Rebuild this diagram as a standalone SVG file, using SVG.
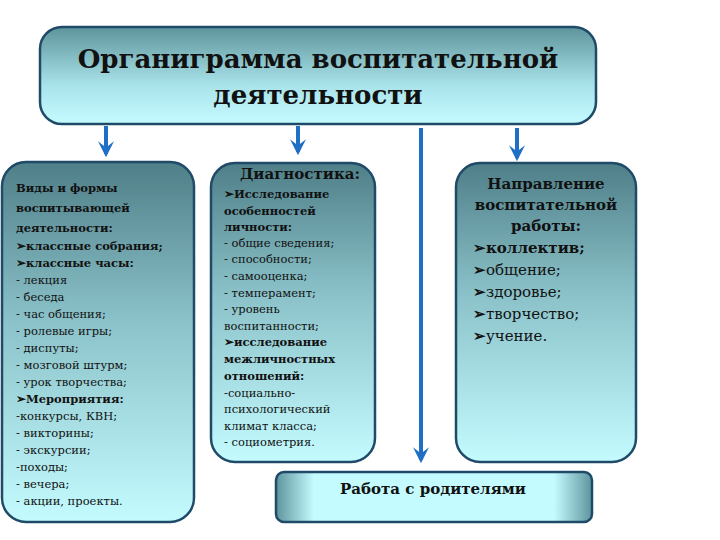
<svg xmlns="http://www.w3.org/2000/svg" width="720" height="540" viewBox="0 0 720 540">
<defs>
<linearGradient id="g" x1="0" y1="0" x2="0" y2="1">
<stop offset="0" stop-color="#4f7f88"/><stop offset="0.45" stop-color="#8cc3ca"/><stop offset="1" stop-color="#c4fbff"/>
</linearGradient>
<linearGradient id="gt" x1="0" y1="0" x2="0" y2="1">
<stop offset="0" stop-color="#5e949c"/><stop offset="0.6" stop-color="#a9e3ea"/><stop offset="1" stop-color="#c4fbff"/>
</linearGradient>
<linearGradient id="gb" x1="0" y1="0" x2="1" y2="0">
<stop offset="0" stop-color="#5e949c"/><stop offset="0.12" stop-color="#c4fbff"/><stop offset="0.88" stop-color="#c4fbff"/><stop offset="1" stop-color="#5e949c"/>
</linearGradient>
<marker id="ar" viewBox="0 0 10 10" refX="8" refY="5" markerWidth="4" markerHeight="4" orient="auto" markerUnits="strokeWidth">
<path d="M0,0 L10,5 L0,10 L4,5 Z" fill="#1f6fc4"/>
</marker>
</defs>
<style>
.box{stroke:#1f4a68;stroke-width:2.5}
.c{stroke:#1f6fc4;stroke-width:4;fill:none}
text{font-family:"DejaVu Serif",serif;fill:#111}
.b{font-weight:bold}
.s{font-size:11.5px}
</style>
<rect width="720" height="540" fill="#fff"/>
<g id="connectors">
<line class="c" x1="106" y1="126" x2="106" y2="154" marker-end="url(#ar)"/>
<line class="c" x1="298" y1="126" x2="298" y2="152" marker-end="url(#ar)"/>
<line class="c" x1="421" y1="128" x2="421" y2="460" marker-end="url(#ar)"/>
<line class="c" x1="517" y1="128" x2="517" y2="158" marker-end="url(#ar)"/>
</g>
<g id="title">
<rect class="box" x="40" y="27" width="556" height="97" rx="22" fill="url(#gt)"/>
<text class="b" x="318" y="68" font-size="26" text-anchor="middle">Органиграмма воспитательной</text>
<text class="b" x="318" y="104" font-size="26" text-anchor="middle">деятельности</text>
</g>
<g id="left">
<rect class="box" x="2" y="162" width="192" height="360" rx="24" fill="url(#g)"/>
<g class="s">
<text class="b" x="16" y="192">Виды и формы</text>
<text class="b" x="16" y="212">воспитывающей</text>
<text class="b" x="16" y="232">деятельности:</text>
<text class="b" x="16" y="250">➢классные собрания;</text>
<text class="b" x="16" y="267">➢классные часы:</text>
<text x="16" y="284">- лекция</text>
<text x="16" y="301">- беседа</text>
<text x="16" y="318">- час общения;</text>
<text x="16" y="335">- ролевые игры;</text>
<text x="16" y="352">- диспуты;</text>
<text x="16" y="369">- мозговой штурм;</text>
<text x="16" y="386">- урок творчества;</text>
<text class="b" x="16" y="403">➢Мероприятия:</text>
<text x="16" y="420">-конкурсы, КВН;</text>
<text x="16" y="437">- викторины;</text>
<text x="16" y="454">- экскурсии;</text>
<text x="16" y="471">-походы;</text>
<text x="16" y="488">- вечера;</text>
<text x="16" y="505">- акции, проекты.</text>
</g>
</g>
<g id="diag">
<rect class="box" x="211" y="163" width="164" height="299" rx="24" fill="url(#g)"/>
<text class="b" x="300" y="179" font-size="15" text-anchor="middle">Диагностика:</text>
<g class="s">
<text class="b" x="224" y="198">➢Исследование</text>
<text class="b" x="224" y="215">особенностей</text>
<text class="b" x="224" y="231">личности:</text>
<text x="224" y="247">- общие сведения;</text>
<text x="224" y="263">- способности;</text>
<text x="224" y="280">- самооценка;</text>
<text x="224" y="297">- темперамент;</text>
<text x="224" y="313">- уровень</text>
<text x="224" y="330">воспитанности;</text>
<text class="b" x="224" y="346">➢исследование</text>
<text class="b" x="224" y="363">межличностных</text>
<text class="b" x="224" y="380">отношений:</text>
<text x="224" y="397">-социально-</text>
<text x="224" y="413">психологический</text>
<text x="224" y="430">климат класса;</text>
<text x="224" y="446">- социометрия.</text>
</g>
</g>
<g id="right">
<rect class="box" x="456" y="163" width="180" height="299" rx="24" fill="url(#g)"/>
<g class="b" font-size="15" text-anchor="middle">
<text x="546" y="189">Направление</text>
<text x="546" y="210">воспитательной</text>
<text x="546" y="231">работы:</text>
</g>
<g font-size="15">
<text class="b" x="473" y="253">➢коллектив;</text>
<text x="473" y="275"><tspan class="b">➢</tspan>общение;</text>
<text x="473" y="297"><tspan class="b">➢</tspan>здоровье;</text>
<text x="473" y="319"><tspan class="b">➢</tspan>творчество;</text>
<text x="473" y="341"><tspan class="b">➢</tspan>учение.</text>
</g>
</g>
<g id="parents">
<rect class="box" x="276" y="472" width="316" height="50" rx="8" fill="url(#gb)"/>
<text class="b" x="433" y="494" font-size="15" text-anchor="middle">Работа с родителями</text>
</g>
</svg>
